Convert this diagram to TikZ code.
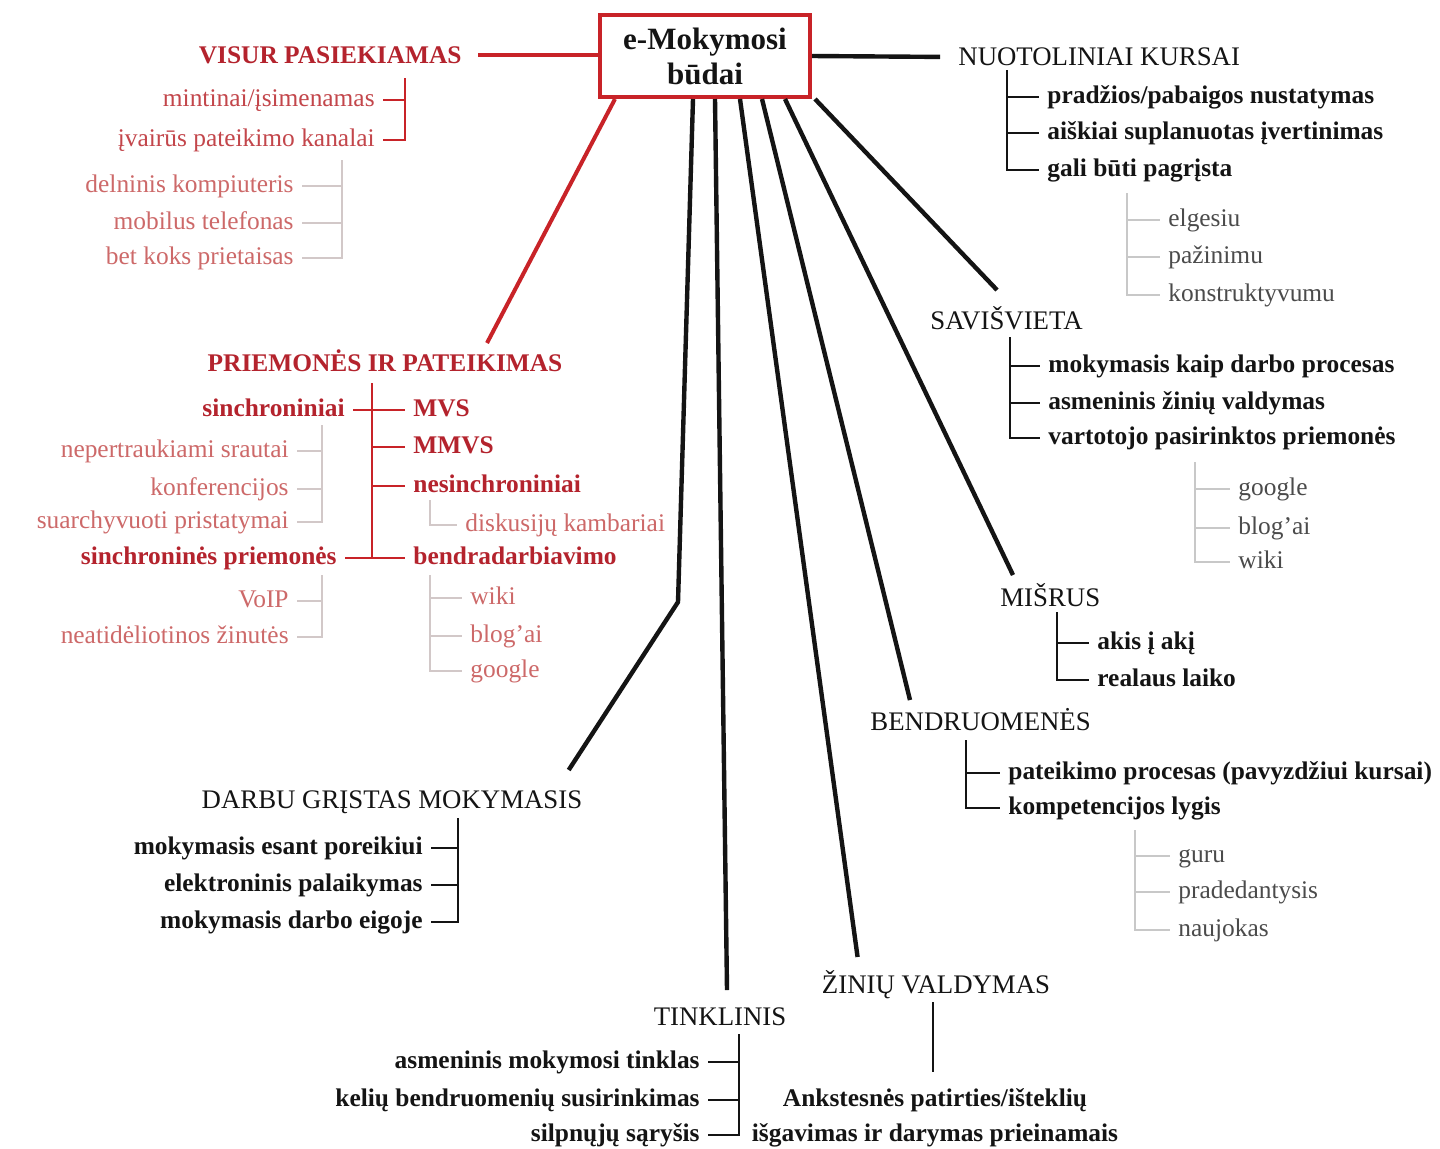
\documentclass[tikz,border=0pt]{standalone}
\usepackage{fontspec}
\setmainfont{Liberation Serif}
\definecolor{boxred}{RGB}{200,35,40}
\definecolor{ttlred}{RGB}{180,35,45}
\definecolor{itmred}{RGB}{195,70,75}
\definecolor{lightred}{RGB}{205,105,105}
\definecolor{lline}{RGB}{210,200,200}
\definecolor{gline}{RGB}{200,200,200}
\definecolor{grayitm}{RGB}{75,75,75}
\definecolor{ink}{RGB}{20,20,20}

\begin{document}
\begin{tikzpicture} [x=0.5pt, y=-0.5pt,
  cbox/.style={draw=boxred, line width=2pt, fill=white, align=center, inner sep=0pt, minimum width=105pt, minimum height=41pt, font=\fontsize{15.5}{17.5}\selectfont\bfseries, text=ink},
  ttl/.style={font=\fontsize{13.4}{15}\selectfont, text=ink, inner xsep=2pt, inner ysep=0pt, text height=8.6pt, text depth=0pt},
  rttl/.style={ttl, font=\fontsize{12.7}{15}\selectfont\bfseries, text=ttlred},
  base/.style={font=\fontsize{12.7}{17.5}\selectfont, inner xsep=4pt, inner ysep=0pt},
  itm/.style={base, text height=8.7pt, text depth=2.7pt, font=\fontsize{12.7}{17.5}\selectfont\bfseries, text=ink},
  ritm/.style={base, text height=8.7pt, text depth=2.7pt, text=itmred},
  ritmb/.style={itm, text=ttlred},
  litm/.style={base, text height=8.7pt, text depth=2.7pt, text=lightred},
  gitm/.style={base, text height=8.7pt, text depth=2.7pt, text=grayitm},
  mainline/.style={line width=2.2pt, ink},
  redline/.style={line width=2pt, boxred},
  brk/.style={line width=1.3pt, ink},
  rbrk/.style={line width=1.3pt, boxred},
  lbrk/.style={line width=0.6pt, lline},
  gbrk/.style={line width=0.6pt, gline}]
\path [use as bounding box, fill=white](0,0) rectangle (1440,1148);

\node [cbox](center) at (705,56) {e-Mokymosi\\būdai};
\node [rttl, anchor=east](visur) at (466,55) {VISUR PASIEKIAMAS};
\node [ttl, anchor=west](nuot) at (954,57) {NUOTOLINIAI KURSAI};
\node [rttl](priem) at (385,363) {PRIEMONĖS IR PATEIKIMAS};
\node [ttl, anchor=west](sav) at (926,321) {SAVIŠVIETA};
\node [ttl, anchor=west](misr) at (996,598) {MIŠRUS};
\node [ttl, anchor=west](bendr) at (866,722) {BENDRUOMENĖS};
\node [ttl](darbu) at (392,800) {DARBU GRĮSTAS MOKYMASIS};
\node [ttl](tinkl) at (720,1017) {TINKLINIS};
\node [ttl](zin) at (936,985) {ŽINIŲ VALDYMAS};

\coordinate (bend) at (678,602);
\draw [redline, shorten <=6pt](visur.east) -- (visur.east -| center.west);
\draw [mainline, shorten >=7pt](center.east) -- (nuot.west);
\draw [redline]([xshift=8.5pt]center.south west) -- ([shift={(51pt,5.5pt)}]priem.north);
\draw [mainline]([xshift=-6pt]center.south) -- (bend) -- ([shift={(-9pt,10.5pt)}]darbu.north east);
\draw [mainline]([xshift=5pt]center.south) -- ([shift={(3.5pt,9pt)}]tinkl.north);
\draw [mainline]([xshift=17.5pt]center.south) -- ([shift={(20pt,9.5pt)}]zin.north west);
\draw [mainline]([xshift=28.5pt]center.south) -- ([shift={(22pt,6.5pt)}]bendr.north west);
\draw [mainline]([xshift=40pt]center.south) -- ([shift={(8.5pt,7pt)}]misr.north west);
\draw [mainline]([xshift=1.5pt]center.south east) -- ([shift={(35.5pt,11pt)}]sav.north west);

\coordinate (visurB) at (405,78);
\node [ritm, anchor=east](mint) at (383,100) {mintinai/įsimenamas};
\node [ritm, anchor=east](kanal) at (383,140) {įvairūs pateikimo kanalai};
\draw [rbrk](visurB) |- (mint.east);
\draw [rbrk](visurB) |- (kanal.east);
\coordinate (kanalL) at (342,160);
\node [litm, anchor=east](deln) at (302,186) {delninis kompiuteris};
\node [litm, anchor=east](mob) at (302,223) {mobilus telefonas};
\node [litm, anchor=east](bet) at (302,258) {bet koks prietaisas};
\draw [lbrk](kanalL) |- (deln.east);
\draw [lbrk](kanalL) |- (mob.east);
\draw [lbrk](kanalL) |- (bet.east);

\coordinate (priemB) at (372,383);
\node [ritmb, anchor=east](sinch) at (353,410) {sinchroniniai};
\node [ritmb, anchor=west](mvs) at (405,410) {MVS};
\node [ritmb, anchor=west](mmvs) at (405,447) {MMVS};
\node [ritmb, anchor=west](nesinch) at (405,486) {nesinchroniniai};
\node [ritmb, anchor=east](sinchp) at (345,558) {sinchroninės priemonės};
\node [ritmb, anchor=west](bendra) at (405,558) {bendradarbiavimo};
\draw [rbrk](priemB) |- (bendra.west);
\draw [rbrk](sinch.east) -- (mvs.west);
\draw [rbrk](sinchp.east) -- (bendra.west);
\draw [rbrk](priemB) |- (mmvs.west);
\draw [rbrk](priemB) |- (nesinch.west);

\coordinate (sinchL) at (322,425);
\node [litm, anchor=east](nep) at (297,451) {nepertraukiami srautai};
\node [litm, anchor=east](konf) at (297,489) {konferencijos};
\node [litm, anchor=east](suarch) at (297,522) {suarchyvuoti pristatymai};
\draw [lbrk](sinchL) |- (nep.east);
\draw [lbrk](sinchL) |- (konf.east);
\draw [lbrk](sinchL) |- (suarch.east);
\coordinate (sinchpL) at (322,575);
\node [litm, anchor=east](voip) at (297,601) {VoIP};
\node [litm, anchor=east](neat) at (297,637) {neatidėliotinos žinutės};
\draw [lbrk](sinchpL) |- (voip.east);
\draw [lbrk](sinchpL) |- (neat.east);
\coordinate (nesL) at (430,500);
\node [litm, anchor=west](disk) at (457,525) {diskusijų kambariai};
\draw [lbrk](nesL) |- (disk.west);
\coordinate (bendraL) at (430,575);
\node [litm, anchor=west](wiki) at (462,598) {wiki};
\node [litm, anchor=west](blog) at (462,636) {blog’ai};
\node [litm, anchor=west](goog) at (462,671) {google};
\draw [lbrk](bendraL) |- (wiki.west);
\draw [lbrk](bendraL) |- (blog.west);
\draw [lbrk](bendraL) |- (goog.west);

\coordinate (nuotB) at (1007,70);
\node [itm, anchor=west](pradz) at (1039,97) {pradžios/pabaigos nustatymas};
\node [itm, anchor=west](aisk) at (1039,133) {aiškiai suplanuotas įvertinimas};
\node [itm, anchor=west](gali) at (1039,170) {gali būti pagrįsta};
\draw [brk](nuotB) |- (pradz.west);
\draw [brk](nuotB) |- (aisk.west);
\draw [brk](nuotB) |- (gali.west);
\coordinate (galiL) at (1127,193);
\node [gitm, anchor=west](elg) at (1160,220) {elgesiu};
\node [gitm, anchor=west](paz) at (1160,257) {pažinimu};
\node [gitm, anchor=west](konstr) at (1160,295) {konstruktyvumu};
\draw [gbrk](galiL) |- (elg.west);
\draw [gbrk](galiL) |- (paz.west);
\draw [gbrk](galiL) |- (konstr.west);

\coordinate (savB) at (1010,337);
\node [itm, anchor=west](mok) at (1040,366) {mokymasis kaip darbo procesas};
\node [itm, anchor=west](asm) at (1040,403) {asmeninis žinių valdymas};
\node [itm, anchor=west](vart) at (1040,438) {vartotojo pasirinktos priemonės};
\draw [brk](savB) |- (mok.west);
\draw [brk](savB) |- (asm.west);
\draw [brk](savB) |- (vart.west);
\coordinate (vartL) at (1195,462);
\node [gitm, anchor=west](goog2) at (1230,489) {google};
\node [gitm, anchor=west](blog2) at (1230,528) {blog’ai};
\node [gitm, anchor=west](wiki2) at (1230,562) {wiki};
\draw [gbrk](vartL) |- (goog2.west);
\draw [gbrk](vartL) |- (blog2.west);
\draw [gbrk](vartL) |- (wiki2.west);

\coordinate (misrB) at (1057,612);
\node [itm, anchor=west](akis) at (1089,643) {akis į akį};
\node [itm, anchor=west](real) at (1089,680) {realaus laiko};
\draw [brk](misrB) |- (akis.west);
\draw [brk](misrB) |- (real.west);

\coordinate (bendrB) at (966,740);
\node [itm, anchor=west](pat) at (1000,773) {pateikimo procesas (pavyzdžiui kursai)};
\node [itm, anchor=west](komp) at (1000,808) {kompetencijos lygis};
\draw [brk](bendrB) |- (pat.west);
\draw [brk](bendrB) |- (komp.west);
\coordinate (kompL) at (1135,830);
\node [gitm, anchor=west](guru) at (1170,856) {guru};
\node [gitm, anchor=west](prad) at (1170,892) {pradedantysis};
\node [gitm, anchor=west](nauj) at (1170,930) {naujokas};
\draw [gbrk](kompL) |- (guru.west);
\draw [gbrk](kompL) |- (prad.west);
\draw [gbrk](kompL) |- (nauj.west);

\coordinate (darbuB) at (458,818);
\node [itm, anchor=east](esant) at (431,848) {mokymasis esant poreikiui};
\node [itm, anchor=east](elek) at (431,885) {elektroninis palaikymas};
\node [itm, anchor=east](eig) at (431,922) {mokymasis darbo eigoje};
\draw [brk](darbuB) |- (esant.east);
\draw [brk](darbuB) |- (elek.east);
\draw [brk](darbuB) |- (eig.east);

\coordinate (tinklB) at (739,1034);
\node [itm, anchor=east](asmt) at (708,1062) {asmeninis mokymosi tinklas};
\node [itm, anchor=east](kel) at (708,1100) {kelių bendruomenių susirinkimas};
\node [itm, anchor=east](silp) at (708,1135) {silpnųjų sąryšis};
\draw [brk](tinklB) |- (asmt.east);
\draw [brk](tinklB) |- (kel.east);
\draw [brk](tinklB) |- (silp.east);

\node [base, align=center, font=\fontsize{12.7}{17.5}\selectfont\bfseries, text=ink](ankst) at (935,1118) {Ankstesnės patirties/išteklių\\išgavimas ir darymas prieinamais};
\draw [line width=1pt, ink]([shift={(-1.5pt,-4pt)}]zin.south) -- ([shift={(-1pt,8pt)}]ankst.north);
\end{tikzpicture}
\end{document}
